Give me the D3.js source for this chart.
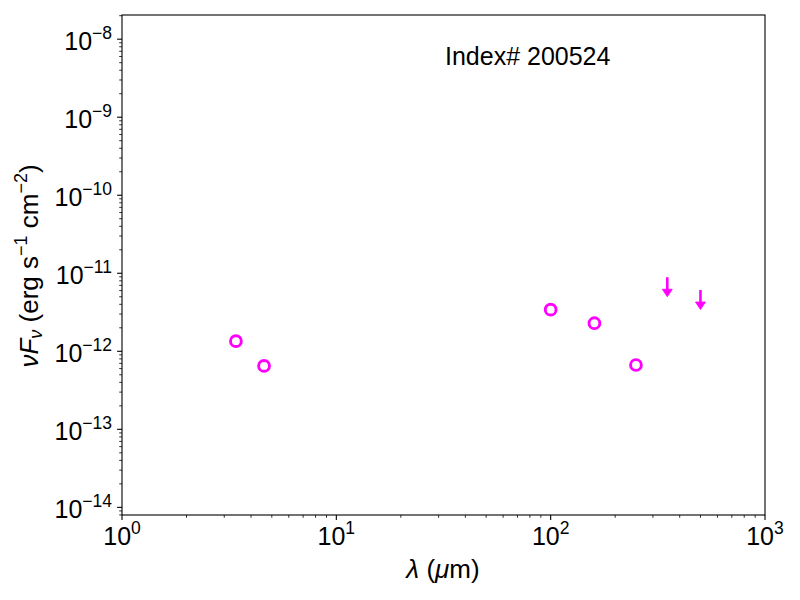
<!DOCTYPE html>
<html>
<head>
<meta charset="utf-8">
<script src="https://cdn.jsdelivr.net/npm/d3@7"></script>
<style>
  body { margin: 0; background: #fff; }
  svg text { font-family: "Liberation Sans", Arial, Helvetica, sans-serif; fill: #000; }
</style>
</head>
<body>
<svg id="chart" width="800" height="600"></svg>
<script>
// detections (um, erg s-1 cm-2)
const detWave = [3.4, 4.6, 100, 160, 250];
const detFlux = [1.35e-12, 6.5e-13, 3.42e-12, 2.29e-12, 6.67e-13];

// upper limits
const limWave = [350, 500];
const limFlux = [8.9e-12, 6.1e-12];

const xTicks = [0, 1, 2, 3];
const yTicks = [-14, -13, -12, -11, -10, -9, -8];
const label = "Index# 200524";

const margin = {left: 122, right: 35, top: 15, bottom: 85};
const W = 800, H = 600;
const pw = W - margin.left - margin.right;
const ph = H - margin.top - margin.bottom;
const color = "#ff00ff";

const svg = d3.select("#chart");
const g = svg.append("g").attr("transform", `translate(${margin.left},${margin.top})`);

const x = d3.scaleLog().domain([1, 1000]).range([0, pw]);
const y = d3.scaleLog().domain([Math.pow(10, -14.098), Math.pow(10, -7.69)]).range([ph, 0]);

// minor ticks
const xMinor = [];
for (let e = 0; e < 3; e++) for (let k = 2; k < 10; k++) xMinor.push(k * Math.pow(10, e));
const yMinor = [];
for (let e = -15; e < -7; e++) for (let k = 2; k < 10; k++) {
    const v = k * Math.pow(10, e);
    if (v >= y.domain()[0] && v <= y.domain()[1]) yMinor.push(v);
}

g.selectAll(".xminor").data(xMinor).enter().append("line")
    .attr("x1", d => x(d)).attr("x2", d => x(d))
    .attr("y1", ph).attr("y2", ph + 2.8)
    .attr("stroke", "#000").attr("stroke-width", 0.8);
g.selectAll(".yminor").data(yMinor).enter().append("line")
    .attr("x1", 0).attr("x2", -2.8)
    .attr("y1", d => y(d)).attr("y2", d => y(d))
    .attr("stroke", "#000").attr("stroke-width", 0.8);

// major ticks
g.selectAll(".xmajor").data(xTicks).enter().append("line")
    .attr("x1", d => x(Math.pow(10, d))).attr("x2", d => x(Math.pow(10, d)))
    .attr("y1", ph).attr("y2", ph + 4.9)
    .attr("stroke", "#000").attr("stroke-width", 1.1);
g.selectAll(".ymajor").data(yTicks).enter().append("line")
    .attr("x1", 0).attr("x2", -4.9)
    .attr("y1", d => y(Math.pow(10, d))).attr("y2", d => y(Math.pow(10, d)))
    .attr("stroke", "#000").attr("stroke-width", 1.1);

// tick labels
const fmt = d => (d < 0 ? "\u2212" + (-d) : "" + d);
const xl = g.selectAll(".xlab").data(xTicks).enter().append("text")
    .attr("x", d => x(Math.pow(10, d)))
    .attr("y", ph + 30)
    .attr("text-anchor", "middle")
    .attr("font-size", 25);
xl.append("tspan").text("10");
xl.append("tspan").attr("dy", -11).attr("font-size", 17.5).text(d => fmt(d));

const yl = g.selectAll(".ylab").data(yTicks).enter().append("text")
    .attr("x", -10)
    .attr("y", d => y(Math.pow(10, d)) + 11)
    .attr("text-anchor", "end")
    .attr("font-size", 25);
yl.append("tspan").text("10");
yl.append("tspan").attr("dy", -11).attr("font-size", 17.5).text(d => fmt(d));

// frame
g.append("rect").attr("width", pw).attr("height", ph)
    .attr("fill", "none").attr("stroke", "#000").attr("stroke-width", 1.1);

// detections
g.selectAll(".det").data(detWave).enter().append("circle")
    .attr("cx", d => x(d))
    .attr("cy", (d, i) => y(detFlux[i]))
    .attr("r", 5.4)
    .attr("fill", "none").attr("stroke", color).attr("stroke-width", 2.9);

// upper limits: line down a quarter decade with a caret head
const lim = g.selectAll(".lim").data(limWave).enter().append("g");
lim.append("line")
    .attr("x1", d => x(d)).attr("x2", d => x(d))
    .attr("y1", (d, i) => y(limFlux[i]))
    .attr("y2", (d, i) => y(limFlux[i] * Math.pow(10, -0.25)) - 4)
    .attr("stroke", color).attr("stroke-width", 2.6);
lim.append("path")
    .attr("d", (d, i) => {
        const cx = x(d), cy = y(limFlux[i] * Math.pow(10, -0.25));
        return `M${cx - 5},${cy - 7.5}L${cx + 5},${cy - 7.5}L${cx},${cy}Z`;
    })
    .attr("fill", color).attr("stroke", color).attr("stroke-width", 0.8);

// annotation
g.append("text").attr("x", 445 - margin.left).attr("y", 65 - margin.top)
    .attr("font-size", 25).text(label);

// axis labels
const xlab = svg.append("text").attr("x", 443).attr("y", 578)
    .attr("text-anchor", "middle").attr("font-size", 26);
xlab.append("tspan").attr("font-style", "italic").text("\u03bb");
xlab.append("tspan").text(" (");
xlab.append("tspan").attr("font-style", "italic").text("\u03bc");
xlab.append("tspan").text("m)");

const ylab = svg.append("text")
    .attr("transform", "translate(38,266) rotate(-90)")
    .attr("text-anchor", "middle").attr("font-size", 26);
ylab.append("tspan").attr("font-style", "italic").text("\u03bdF");
ylab.append("tspan").attr("font-style", "italic").attr("font-size", 18).attr("dy", 4).text("\u03bd");
ylab.append("tspan").attr("dy", -4).text(" (erg s");
ylab.append("tspan").attr("font-size", 18).attr("dy", -11).text("\u22121");
ylab.append("tspan").attr("dy", 11).text(" cm");
ylab.append("tspan").attr("font-size", 18).attr("dy", -11).text("\u22122");
ylab.append("tspan").attr("dy", 11).text(")");
</script>
</body>
</html>
